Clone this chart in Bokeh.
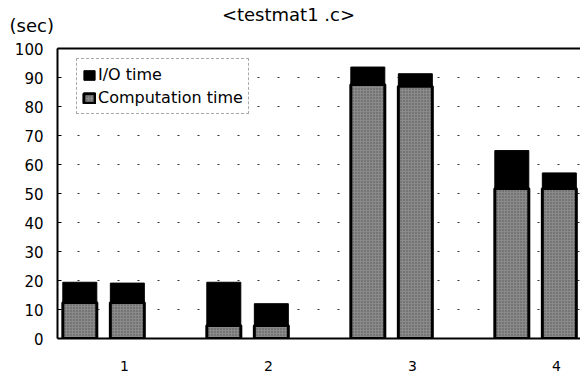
import numpy as np
from bokeh.plotting import figure
from bokeh.models import (ColumnDataSource, Range1d, FixedTicker, Legend, LegendItem,
                          LinearAxis)
from bokeh.embed import file_html
from bokeh.resources import INLINE

# ---- data ----
groups = [1, 2, 3, 4]
group_labels = ["1", "2", "3", "4"]
comp_a = [12.4, 4.5, 87.6, 51.7]   # computation time, first bar of each group
io_a = [7.0, 14.9, 6.0, 13.1]      # I/O time, first bar
comp_b = [12.4, 4.5, 87.0, 51.7]   # computation time, second bar
io_b = [6.7, 7.5, 4.3, 5.4]        # I/O time, second bar
y_ticks = [0, 10, 20, 30, 40, 50, 60, 70, 80, 90, 100]
title_text = "<testmat1 .c>"
unit_text = "(sec)"

FONT = "DejaVu Sans"
X0, X1 = 0.535, 4.167
OFF_A, OFF_B, BW = -0.31, 0.02, 0.236
GRAY = "#8a8a8a"
NBSP = "\u00a0"

p = figure(width=580, height=378, output_backend="svg", toolbar_location=None,
           x_range=Range1d(X0, X1), y_range=Range1d(0, 100),
           min_border_left=57, min_border_right=0, min_border_top=48,
           min_border_bottom=40)
p.outline_line_color = None
p.background_fill_color = "white"
p.border_fill_color = "white"

g = np.array(groups, dtype=float)
src = ColumnDataSource(dict(
    xa=g + OFF_A, xb=g + OFF_B,
    ca=comp_a, cb=comp_b,
    ta=np.array(comp_a) + np.array(io_a),
    tb=np.array(comp_b) + np.array(io_b),
))

io_r1 = p.vbar(x="xa", width=BW, bottom="ca", top="ta", source=src,
               fill_color="black", line_color="black", line_width=1)
io_r2 = p.vbar(x="xb", width=BW, bottom="cb", top="tb", source=src,
               fill_color="black", line_color="black", line_width=1)
c_r1 = p.vbar(x="xa", width=BW, bottom=0, top="ca", source=src,
              fill_color=GRAY, line_color="black", line_width=3,
              hatch_pattern="dot", hatch_color="#222222", hatch_scale=3, hatch_alpha=0.5)
c_r2 = p.vbar(x="xb", width=BW, bottom=0, top="cb", source=src,
              fill_color=GRAY, line_color="black", line_width=3,
              hatch_pattern="dot", hatch_color="#222222", hatch_scale=3, hatch_alpha=0.5)

# axes
p.xaxis.ticker = FixedTicker(ticks=groups)
p.xaxis.major_label_overrides = {gv: lab for gv, lab in zip(groups, group_labels)}
p.xaxis.major_tick_line_color = None
p.xaxis.minor_tick_line_color = None
p.xaxis.axis_line_width = 2
p.xaxis.axis_line_color = "black"
p.xaxis.major_label_text_font = FONT
p.xaxis.major_label_text_font_size = "14px"
p.xaxis.major_label_text_color = "black"
p.xaxis.major_label_standoff = 16

p.yaxis.ticker = FixedTicker(ticks=y_ticks)
p.yaxis.major_tick_in = 4
p.yaxis.major_tick_out = 0
p.yaxis.minor_tick_line_color = None
p.yaxis.axis_line_width = 2
p.yaxis.axis_line_color = "black"
p.yaxis.major_label_text_font = FONT
p.yaxis.major_label_text_font_size = "15px"
p.yaxis.major_label_text_color = "black"
p.yaxis.major_label_standoff = 14

# top border line + title texts as labels of a tick-less top axis
t_unit, t_title = X0, 2.139
top_axis = LinearAxis(major_tick_line_color=None, minor_tick_line_color=None,
                      axis_line_width=2, axis_line_color="black",
                      major_label_text_font=FONT, major_label_text_font_size="18px",
                      major_label_text_color="black",
                      major_label_text_line_height=0.5,
                      major_label_standoff=7)
top_axis.ticker = FixedTicker(ticks=[t_unit, t_title])
top_axis.major_label_overrides = {t_unit: unit_text + NBSP * 9,
                                  t_title: title_text + "\n" + NBSP}
p.add_layout(top_axis, "above")

p.xgrid.grid_line_color = None
p.ygrid.ticker = FixedTicker(ticks=y_ticks)
p.ygrid.grid_line_color = "#333333"
p.ygrid.grid_line_dash = "2 18"
p.ygrid.grid_line_width = 1

# legend
legend = Legend(items=[LegendItem(label="I/O time", renderers=[io_r1]),
                       LegendItem(label="Computation time", renderers=[c_r1])],
                location=(19, 224))
legend.label_text_font = FONT
legend.label_text_font_size = "16px"
legend.label_text_color = "black"
legend.glyph_width = 14
legend.glyph_height = 12
legend.label_standoff = 2
legend.spacing = 2
legend.padding = 5
legend.label_height = 21
legend.border_line_color = "#555555"
legend.border_line_dash = "2 2"
legend.border_line_width = 1
legend.background_fill_alpha = 1
p.add_layout(legend, "center")

open("out.html", "w").write(file_html(p, INLINE))
